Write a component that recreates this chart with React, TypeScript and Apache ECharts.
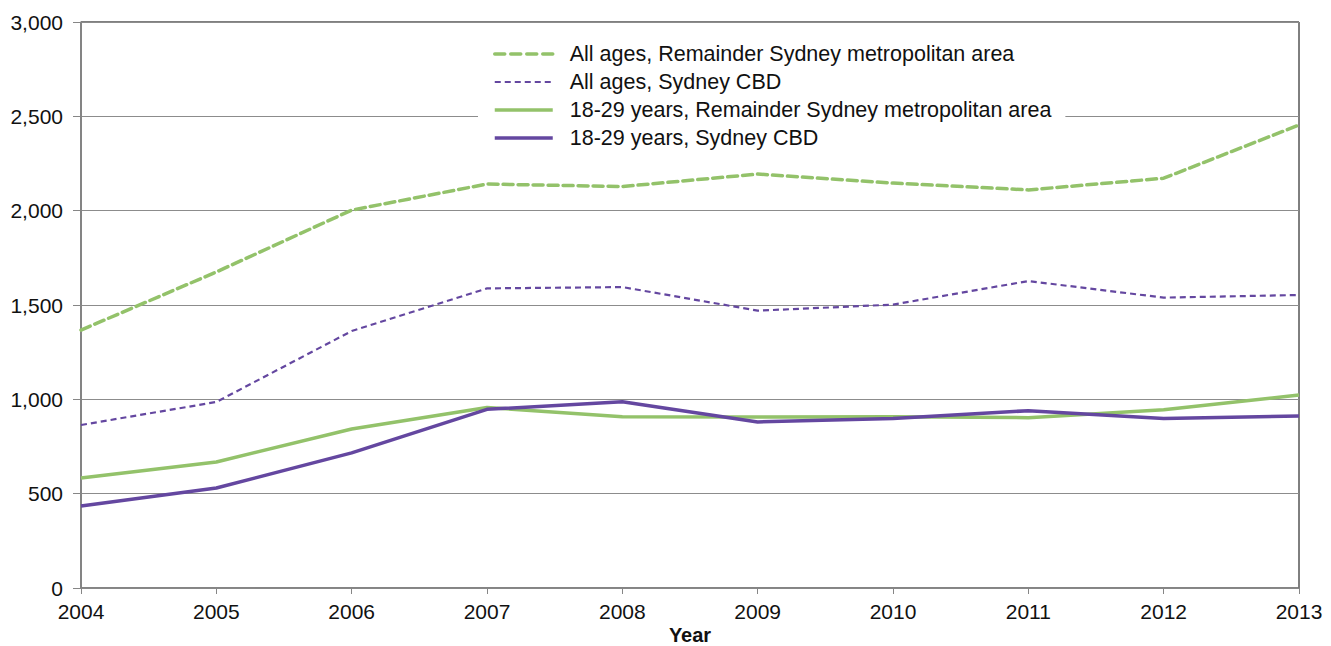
import React, { useEffect, useRef } from "react";
import * as echarts from "echarts";

const years = ["2004", "2005", "2006", "2007", "2008", "2009", "2010", "2011", "2012", "2013"];
const allAgesRemainder = [1367, 1675, 2003, 2141, 2128, 2194, 2146, 2110, 2172, 2454];
const allAgesCBD = [864, 986, 1362, 1588, 1595, 1470, 1502, 1627, 1539, 1553];
const youngRemainder = [583, 668, 843, 957, 908, 906, 908, 903, 945, 1023];
const youngCBD = [435, 530, 716, 947, 987, 880, 898, 940, 899, 912];

const GREEN = "#93C26A";
const PURPLE = "#6447A0";
const FONT = "Liberation Sans, Arial, sans-serif";

export default function App() {
  const ref = useRef<HTMLDivElement>(null);
  useEffect(() => {
    if (!ref.current) return;
    const chart = echarts.init(ref.current, undefined, { renderer: "svg" });
    chart.setOption({
      animation: false,
      backgroundColor: "#fff",
      textStyle: { fontFamily: FONT },
      grid: {
        left: 81,
        right: 32,
        top: 22,
        bottom: 58,
        show: true,
        borderColor: "#000",
        borderWidth: 1,
        outerBoundsMode: "none",
        containLabel: false,
      },
      legend: {
        orient: "vertical",
        left: 478,
        top: 35,
        padding: [8, 14, 8, 15],
        backgroundColor: "#fff",
        itemWidth: 58,
        itemHeight: 22,
        itemGap: 6,
        itemStyle: { opacity: 0 },
        textStyle: { fontSize: 21.5, color: "#111", fontFamily: FONT, padding: [0, 0, 0, 12] },
        data: [
          { name: "All ages, Remainder Sydney metropolitan area", lineStyle: { width: 3.5, type: [10, 6], cap: "round" } },
          { name: "All ages, Sydney CBD", lineStyle: { width: 2.2, type: [6, 4] } },
          { name: "18-29 years, Remainder Sydney metropolitan area", lineStyle: { width: 3.5 } },
          { name: "18-29 years, Sydney CBD", lineStyle: { width: 3.5 } },
        ],
      },
      xAxis: {
        type: "category",
        data: years,
        boundaryGap: false,
        name: "Year",
        nameLocation: "middle",
        nameGap: 37,
        nameMoveOverlap: false,
        nameTextStyle: { fontSize: 20, lineHeight: 20, fontWeight: "bold", color: "#111", fontFamily: FONT },
        axisLine: { lineStyle: { color: "#868686", width: 1.5 } },
        axisTick: { show: true, length: 6, lineStyle: { color: "#868686" }, alignWithLabel: true },
        axisLabel: { fontSize: 21, color: "#111", margin: 13, fontFamily: FONT },
        splitLine: { show: false },
      },
      yAxis: {
        type: "value",
        min: 0,
        max: 3000,
        interval: 500,
        axisLine: { show: true, lineStyle: { color: "#868686", width: 1.5 } },
        axisTick: { show: true, length: 8, lineStyle: { color: "#868686" } },
        axisLabel: {
          fontSize: 21,
          color: "#111",
          margin: 18,
          fontFamily: FONT,
          formatter: (v: number) => v.toLocaleString("en-US"),
        },
        splitLine: { show: true, lineStyle: { color: "#8c8c8c", width: 1 } },
      },
      series: [
        {
          name: "All ages, Remainder Sydney metropolitan area",
          type: "line",
          data: allAgesRemainder,
          symbol: "none",
          z: 4,
          itemStyle: { color: GREEN },
          lineStyle: { color: GREEN, width: 3.5, type: [10, 5], cap: "round" },
        },
        {
          name: "All ages, Sydney CBD",
          type: "line",
          data: allAgesCBD,
          symbol: "none",
          z: 4,
          itemStyle: { color: PURPLE },
          lineStyle: { color: PURPLE, width: 2.2, type: [6, 4] },
        },
        {
          name: "18-29 years, Remainder Sydney metropolitan area",
          type: "line",
          data: youngRemainder,
          symbol: "none",
          z: 3,
          itemStyle: { color: GREEN },
          lineStyle: { color: GREEN, width: 3.5 },
        },
        {
          name: "18-29 years, Sydney CBD",
          type: "line",
          data: youngCBD,
          symbol: "none",
          z: 4,
          itemStyle: { color: PURPLE },
          lineStyle: { color: PURPLE, width: 3.5 },
        },
      ],
    });
    return () => chart.dispose();
  }, []);
  return <div ref={ref} style={{ width: 1331, height: 646, position: "absolute", left: 0, top: 0 }} />;
}
